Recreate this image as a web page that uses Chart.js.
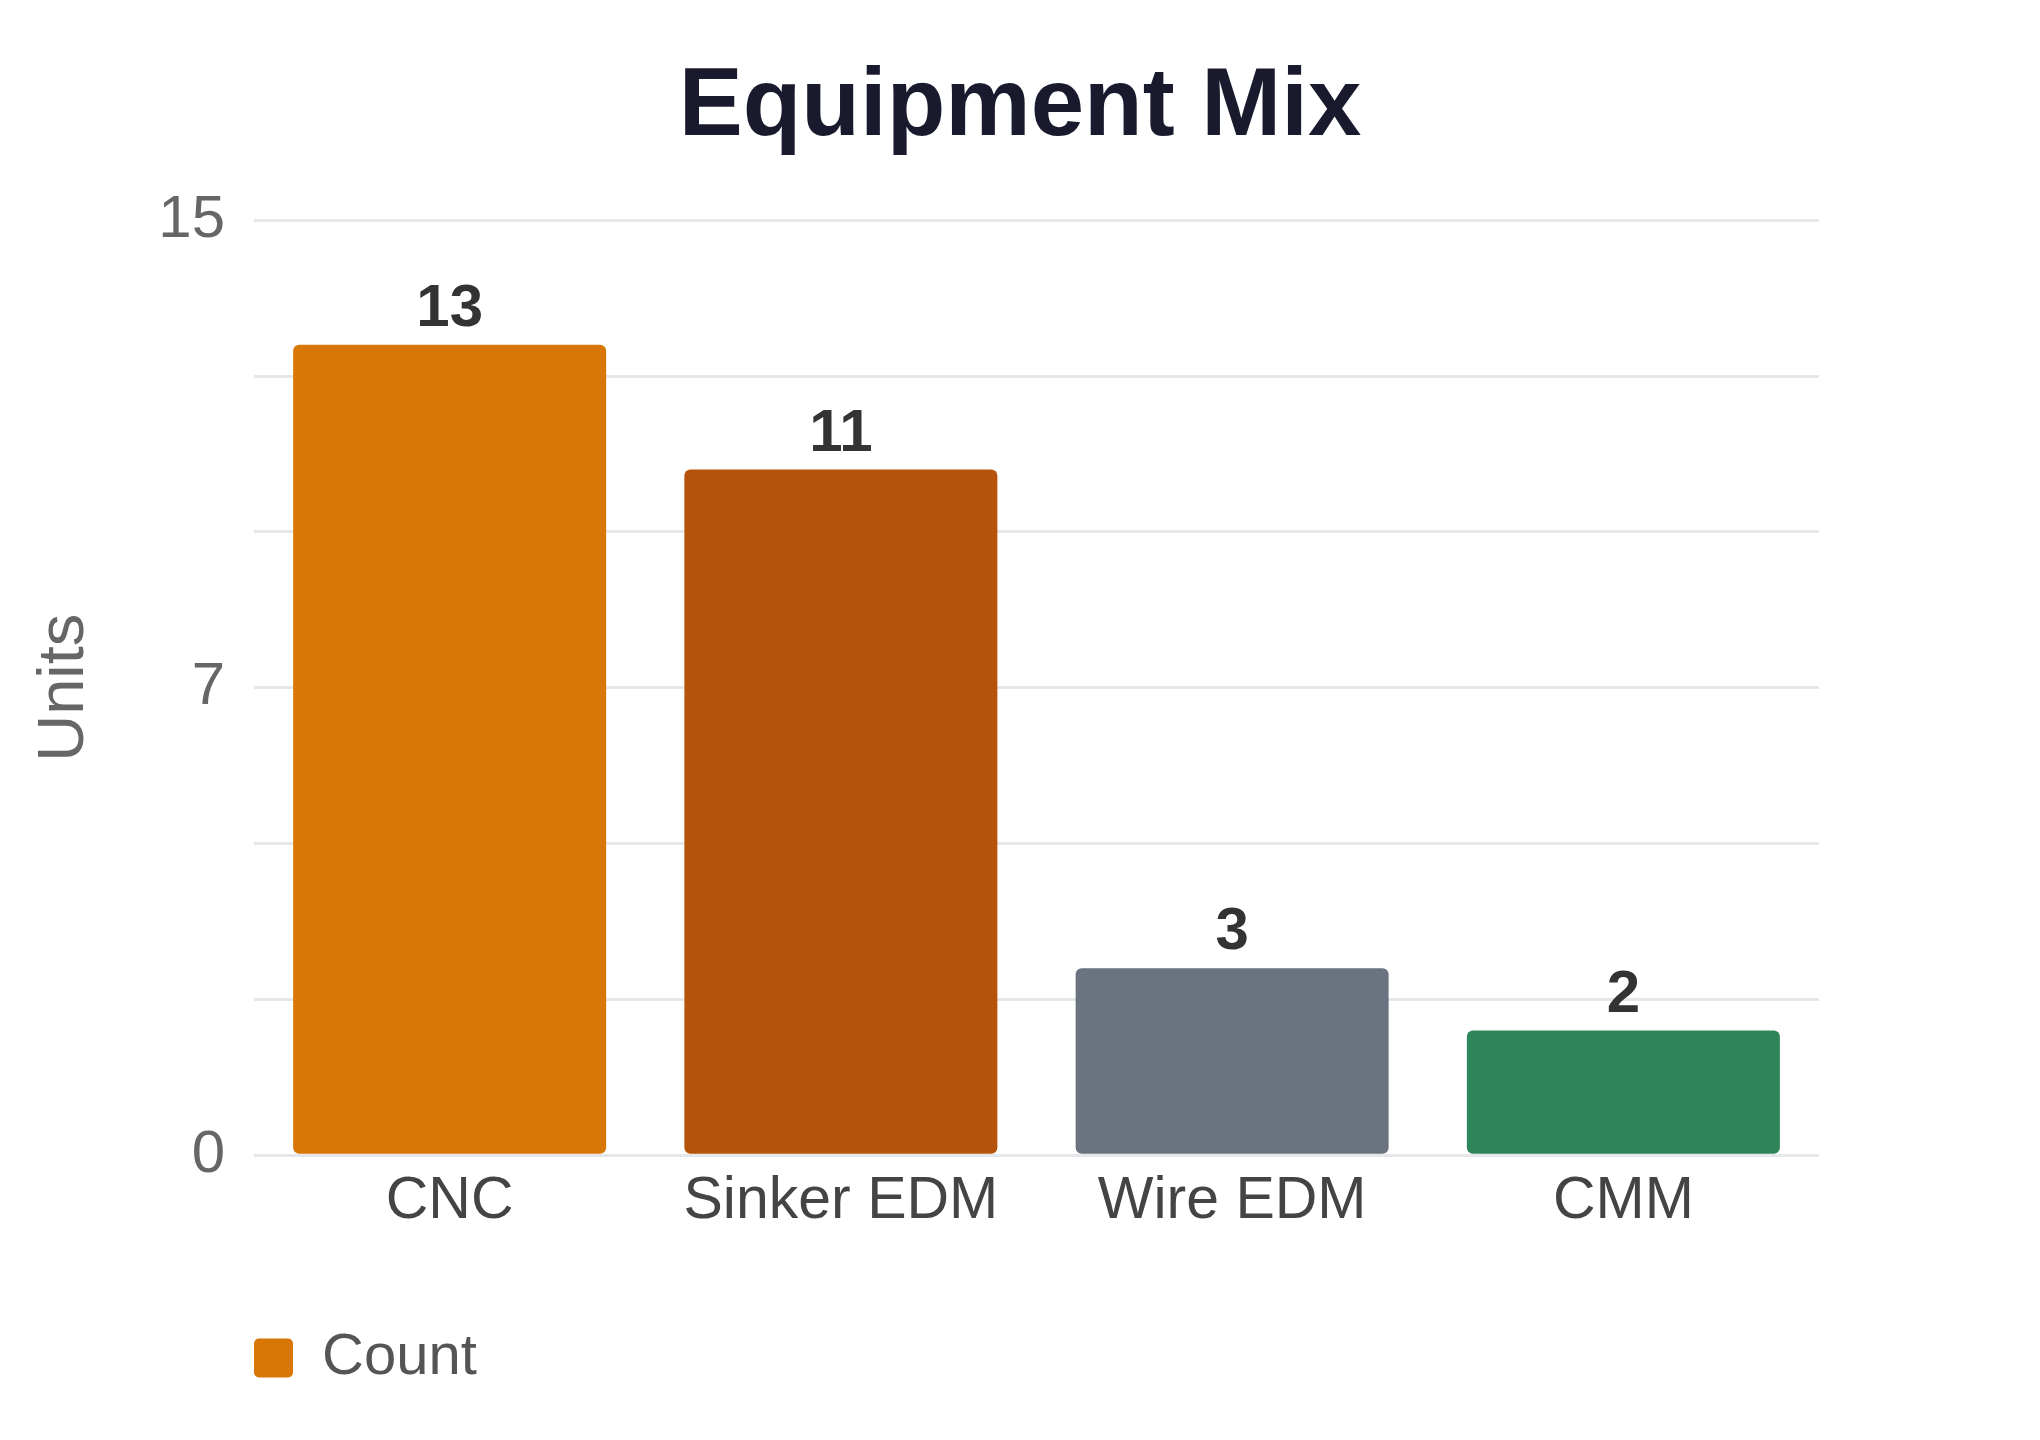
<!DOCTYPE html>
<html><head><meta charset="utf-8">
<script src="https://cdn.jsdelivr.net/npm/chart.js@4.4.1/dist/chart.umd.min.js"></script>
<style>html,body{margin:0;padding:0;background:#fff;} #c{display:block;}</style>
</head><body>
<canvas id="c" width="2040" height="1440"></canvas>
<script>
const categories = ['CNC', 'Sinker EDM', 'Wire EDM', 'CMM'];
const counts = [13, 11, 3, 2];
const barColors = ['#D97706', '#B45309', '#6B7280', '#2F855A'];
const seriesName = 'Count';
const chartTitle = 'Equipment Mix';
const yAxisTitle = 'Units';
const yTickValues = [0, 7.5, 15];
const yTickLabels = ['0', '7', '15'];

const FONT = '"Liberation Sans", Arial, Helvetica, sans-serif';
Chart.defaults.font.family = FONT;

const valueLabels = {
  id: 'valueLabels',
  afterDatasetsDraw(chart) {
    const ctx = chart.ctx;
    const meta = chart.getDatasetMeta(0);
    ctx.save();
    ctx.font = 'bold 60px ' + FONT;
    ctx.fillStyle = '#333333';
    ctx.textAlign = 'center';
    ctx.textBaseline = 'alphabetic';
    meta.data.forEach((bar, i) => {
      ctx.fillText(String(chart.data.datasets[0].data[i]), bar.x, bar.y - 19);
    });
    ctx.restore();
  }
};

new Chart(document.getElementById('c'), {
  type: 'bar',
  data: {
    labels: categories,
    datasets: [{
      label: seriesName,
      data: counts,
      backgroundColor: barColors,
      borderRadius: 6,
      borderSkipped: false,
      categoryPercentage: 0.8,
      barPercentage: 1.0
    }]
  },
  options: {
    responsive: false,
    devicePixelRatio: 1,
    animation: false,
    layout: { padding: { left: 0, right: 0, top: 0, bottom: 43 } },
    plugins: {
      title: {
        display: true,
        text: chartTitle,
        color: '#1a1a2e',
        font: { size: 96, weight: 'bold' },
        padding: { top: 51, bottom: 54 }
      },
      legend: {
        display: true,
        position: 'bottom',
        align: 'start',
        fullSize: false,
        labels: {
          color: '#555555',
          font: { size: 58 },
          boxWidth: 39,
          boxHeight: 39,
          padding: 0,
          useBorderRadius: true,
          borderRadius: 5
        }
      },
      tooltip: { enabled: false }
    },
    scales: {
      x: {
        afterFit(s) { s.height = s.height + 89; },
        grid: { display: false },
        border: { display: false },
        ticks: { color: '#444444', font: { size: 59 }, padding: 3 }
      },
      y: {
        min: 0,
        max: 15,
        afterFit(s) { s.width = 254; },
        grid: { color: '#E5E7EB', lineWidth: 3, drawTicks: false },
        border: { display: false },
        ticks: {
          stepSize: 2.5,
          autoSkip: false,
          color: '#666666',
          font: { size: 60 },
          padding: 29,
          callback(v) { const i = yTickValues.indexOf(v); return i >= 0 ? yTickLabels[i] : ''; }
        },
        title: { display: true, text: yAxisTitle, color: '#666666', font: { size: 65 }, padding: { top: 26, bottom: 0 } }
      },
      yRight: {
        position: 'right',
        display: true,
        afterFit(s) { s.width = 221; },
        grid: { display: false },
        border: { display: false },
        ticks: { display: false }
      }
    }
  },
  plugins: [valueLabels]
});
</script>
</body></html>
